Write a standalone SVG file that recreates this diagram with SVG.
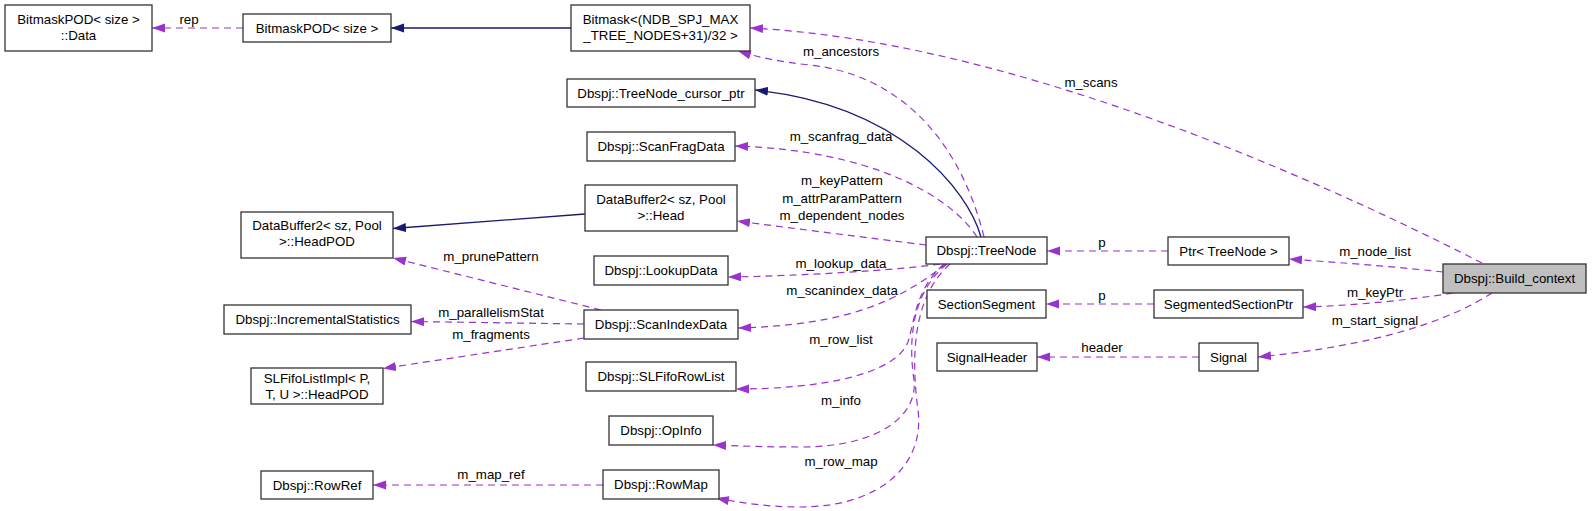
<svg xmlns="http://www.w3.org/2000/svg" width="1592" height="511" viewBox="0 0 1592 511">
<defs>
<style>
.n rect{fill:#fff;stroke:#333;stroke-width:1.3}
.n.main rect{fill:#bfbfbf}
text{font-family:"Liberation Sans",Arial,sans-serif;font-size:13.3px;fill:#000;text-anchor:middle}
.u{fill:none;stroke:#9a32cd;stroke-width:1.2;stroke-dasharray:7,5}
.i{fill:none;stroke:#191970;stroke-width:1.3}
</style>
<marker id="ap" markerUnits="userSpaceOnUse" markerWidth="14" markerHeight="10" refX="13" refY="4.5" orient="auto">
<path d="M0,0 L13,4.5 L0,9 z" fill="#9a32cd"/>
</marker>
<marker id="an" markerUnits="userSpaceOnUse" markerWidth="14" markerHeight="10" refX="13" refY="4.5" orient="auto">
<path d="M0,0 L13,4.5 L0,9 z" fill="#191970"/>
</marker>
</defs>
<rect width="1592" height="511" fill="#fff"/>

<g id="connectors">
<g><path class="u" marker-end="url(#ap)" d="M243,28 L152,28"/><text x="189" y="24">rep</text></g>
<g><path class="i" marker-end="url(#an)" d="M571,28 L391,28"/></g>
<g><path class="u" marker-end="url(#ap)" d="M1482,263 C1300,170 1000,40 750,28"/><text x="1091" y="87">m_scans</text></g>
<g><path class="u" marker-end="url(#ap)" d="M984,237 C960,140 900,75 810,65 C780,62 757,57 738,51"/><text x="841" y="56">m_ancestors</text></g>
<g><path class="i" marker-end="url(#an)" d="M981,237 C968,190 900,105 755,90"/></g>
<g><path class="u" marker-end="url(#ap)" d="M977,237 C950,195 870,150 735,146"/><text x="841" y="141">m_scanfrag_data</text></g>
<g><path class="u" marker-end="url(#ap)" d="M926,245 C870,238 790,228 737,221"/><text x="842" y="185">m_keyPattern</text><text x="842" y="203">m_attrParamPattern</text><text x="842" y="220">m_dependent_nodes</text></g>
<g><path class="u" marker-end="url(#ap)" d="M940,264 C900,270 800,276 728,277"/><text x="841" y="268">m_lookup_data</text></g>
<g><path class="u" marker-end="url(#ap)" d="M946,264 C900,300 850,325 738,328"/><text x="842" y="295">m_scanindex_data</text></g>
<g><path class="u" marker-end="url(#ap)" d="M944,264 C915,290 915,320 908,342 C895,375 820,389 736,389"/><text x="841" y="344">m_row_list</text></g>
<g><path class="u" marker-end="url(#ap)" d="M947,264 C912,292 908,340 914,380 C918,415 880,447 800,447 C770,447 740,446 713,445"/><text x="841" y="405">m_info</text></g>
<g><path class="u" marker-end="url(#ap)" d="M950,264 C915,295 910,350 918,410 C925,465 880,507 800,507 C770,507 740,503 716,498"/><text x="841" y="466">m_row_map</text></g>
<g><path class="i" marker-end="url(#an)" d="M585,214 L393,228.5"/></g>
<g><path class="u" marker-end="url(#ap)" d="M601,310 L393,258"/><text x="491" y="261">m_prunePattern</text></g>
<g><path class="u" marker-end="url(#ap)" d="M584,324 L411,321.5"/><text x="491" y="317">m_parallelismStat</text></g>
<g><path class="u" marker-end="url(#ap)" d="M584,338 L383,368.5"/><text x="491" y="339">m_fragments</text></g>
<g><path class="u" marker-end="url(#ap)" d="M603,485 L373,485"/><text x="491" y="479">m_map_ref</text></g>
<g><path class="u" marker-end="url(#ap)" d="M1168,251 L1047,251"/><text x="1102" y="247">p</text></g>
<g><path class="u" marker-end="url(#ap)" d="M1154,304 L1046,304"/><text x="1102" y="300">p</text></g>
<g><path class="u" marker-end="url(#ap)" d="M1199,357 L1037,357"/><text x="1102" y="352">header</text></g>
<g><path class="u" marker-end="url(#ap)" d="M1443,272 C1390,266 1330,262 1289,259"/><text x="1375" y="256">m_node_list</text></g>
<g><path class="u" marker-end="url(#ap)" d="M1453,293 C1410,300 1350,306 1303,307"/><text x="1375" y="297">m_keyPtr</text></g>
<g><path class="u" marker-end="url(#ap)" d="M1492,293 C1450,320 1380,345 1258,357"/><text x="1375" y="325">m_start_signal</text></g>
</g>

<g id="node-bitmaskpod-data" class="n"><rect x="5" y="5" width="147" height="46"/><text x="78.5" y="24">BitmaskPOD&lt; size &gt;</text><text x="78.5" y="40">::Data</text></g>
<g id="node-bitmaskpod" class="n"><rect x="243" y="14" width="148" height="28"/><text x="317" y="32.5">BitmaskPOD&lt; size &gt;</text></g>
<g id="node-bitmask" class="n"><rect x="571" y="5" width="179" height="46"/><text x="660.5" y="24">Bitmask&lt;(NDB_SPJ_MAX</text><text x="660.5" y="40">_TREE_NODES+31)/32 &gt;</text></g>
<g id="node-cursor" class="n"><rect x="567" y="79" width="188" height="28"/><text x="661" y="97.5">Dbspj::TreeNode_cursor_ptr</text></g>
<g id="node-scanfrag" class="n"><rect x="587" y="132" width="148" height="29"/><text x="661" y="151">Dbspj::ScanFragData</text></g>
<g id="node-head" class="n"><rect x="585" y="185" width="152" height="46"/><text x="661" y="204">DataBuffer2&lt; sz, Pool</text><text x="661" y="220">&gt;::Head</text></g>
<g id="node-headpod" class="n"><rect x="241" y="212" width="152" height="46"/><text x="317" y="230">DataBuffer2&lt; sz, Pool</text><text x="317" y="246">&gt;::HeadPOD</text></g>
<g id="node-lookup" class="n"><rect x="594" y="256" width="134" height="29"/><text x="661" y="275">Dbspj::LookupData</text></g>
<g id="node-incstat" class="n"><rect x="224" y="305" width="187" height="29"/><text x="317.5" y="324">Dbspj::IncrementalStatistics</text></g>
<g id="node-scanindex" class="n"><rect x="584" y="310" width="154" height="29"/><text x="661" y="329">Dbspj::ScanIndexData</text></g>
<g id="node-slfifolist" class="n"><rect x="251" y="368" width="132" height="36"/><text x="317" y="383">SLFifoListImpl&lt; P,</text><text x="317" y="399">T, U &gt;::HeadPOD</text></g>
<g id="node-slfiforow" class="n"><rect x="586" y="362" width="150" height="29"/><text x="661" y="381">Dbspj::SLFifoRowList</text></g>
<g id="node-opinfo" class="n"><rect x="609" y="416" width="104" height="29"/><text x="661" y="435">Dbspj::OpInfo</text></g>
<g id="node-rowref" class="n"><rect x="261" y="471" width="112" height="28"/><text x="317" y="489.5">Dbspj::RowRef</text></g>
<g id="node-rowmap" class="n"><rect x="603" y="470" width="116" height="29"/><text x="661" y="489">Dbspj::RowMap</text></g>
<g id="node-treenode" class="n"><rect x="926" y="237" width="121" height="27"/><text x="986.5" y="255">Dbspj::TreeNode</text></g>
<g id="node-sectionsegment" class="n"><rect x="927" y="290" width="119" height="28"/><text x="986.5" y="308.5">SectionSegment</text></g>
<g id="node-signalheader" class="n"><rect x="937" y="343" width="100" height="28"/><text x="987" y="361.5">SignalHeader</text></g>
<g id="node-ptr" class="n"><rect x="1168" y="237" width="121" height="28"/><text x="1228.5" y="255.5">Ptr&lt; TreeNode &gt;</text></g>
<g id="node-segptr" class="n"><rect x="1154" y="290" width="149" height="28"/><text x="1228.5" y="308.5">SegmentedSectionPtr</text></g>
<g id="node-signal" class="n"><rect x="1199" y="343" width="59" height="28"/><text x="1228.5" y="361.5">Signal</text></g>
<g id="node-build-context" class="n main"><rect x="1443" y="264" width="143" height="29"/><text x="1514.5" y="283">Dbspj::Build_context</text></g>
</svg>
